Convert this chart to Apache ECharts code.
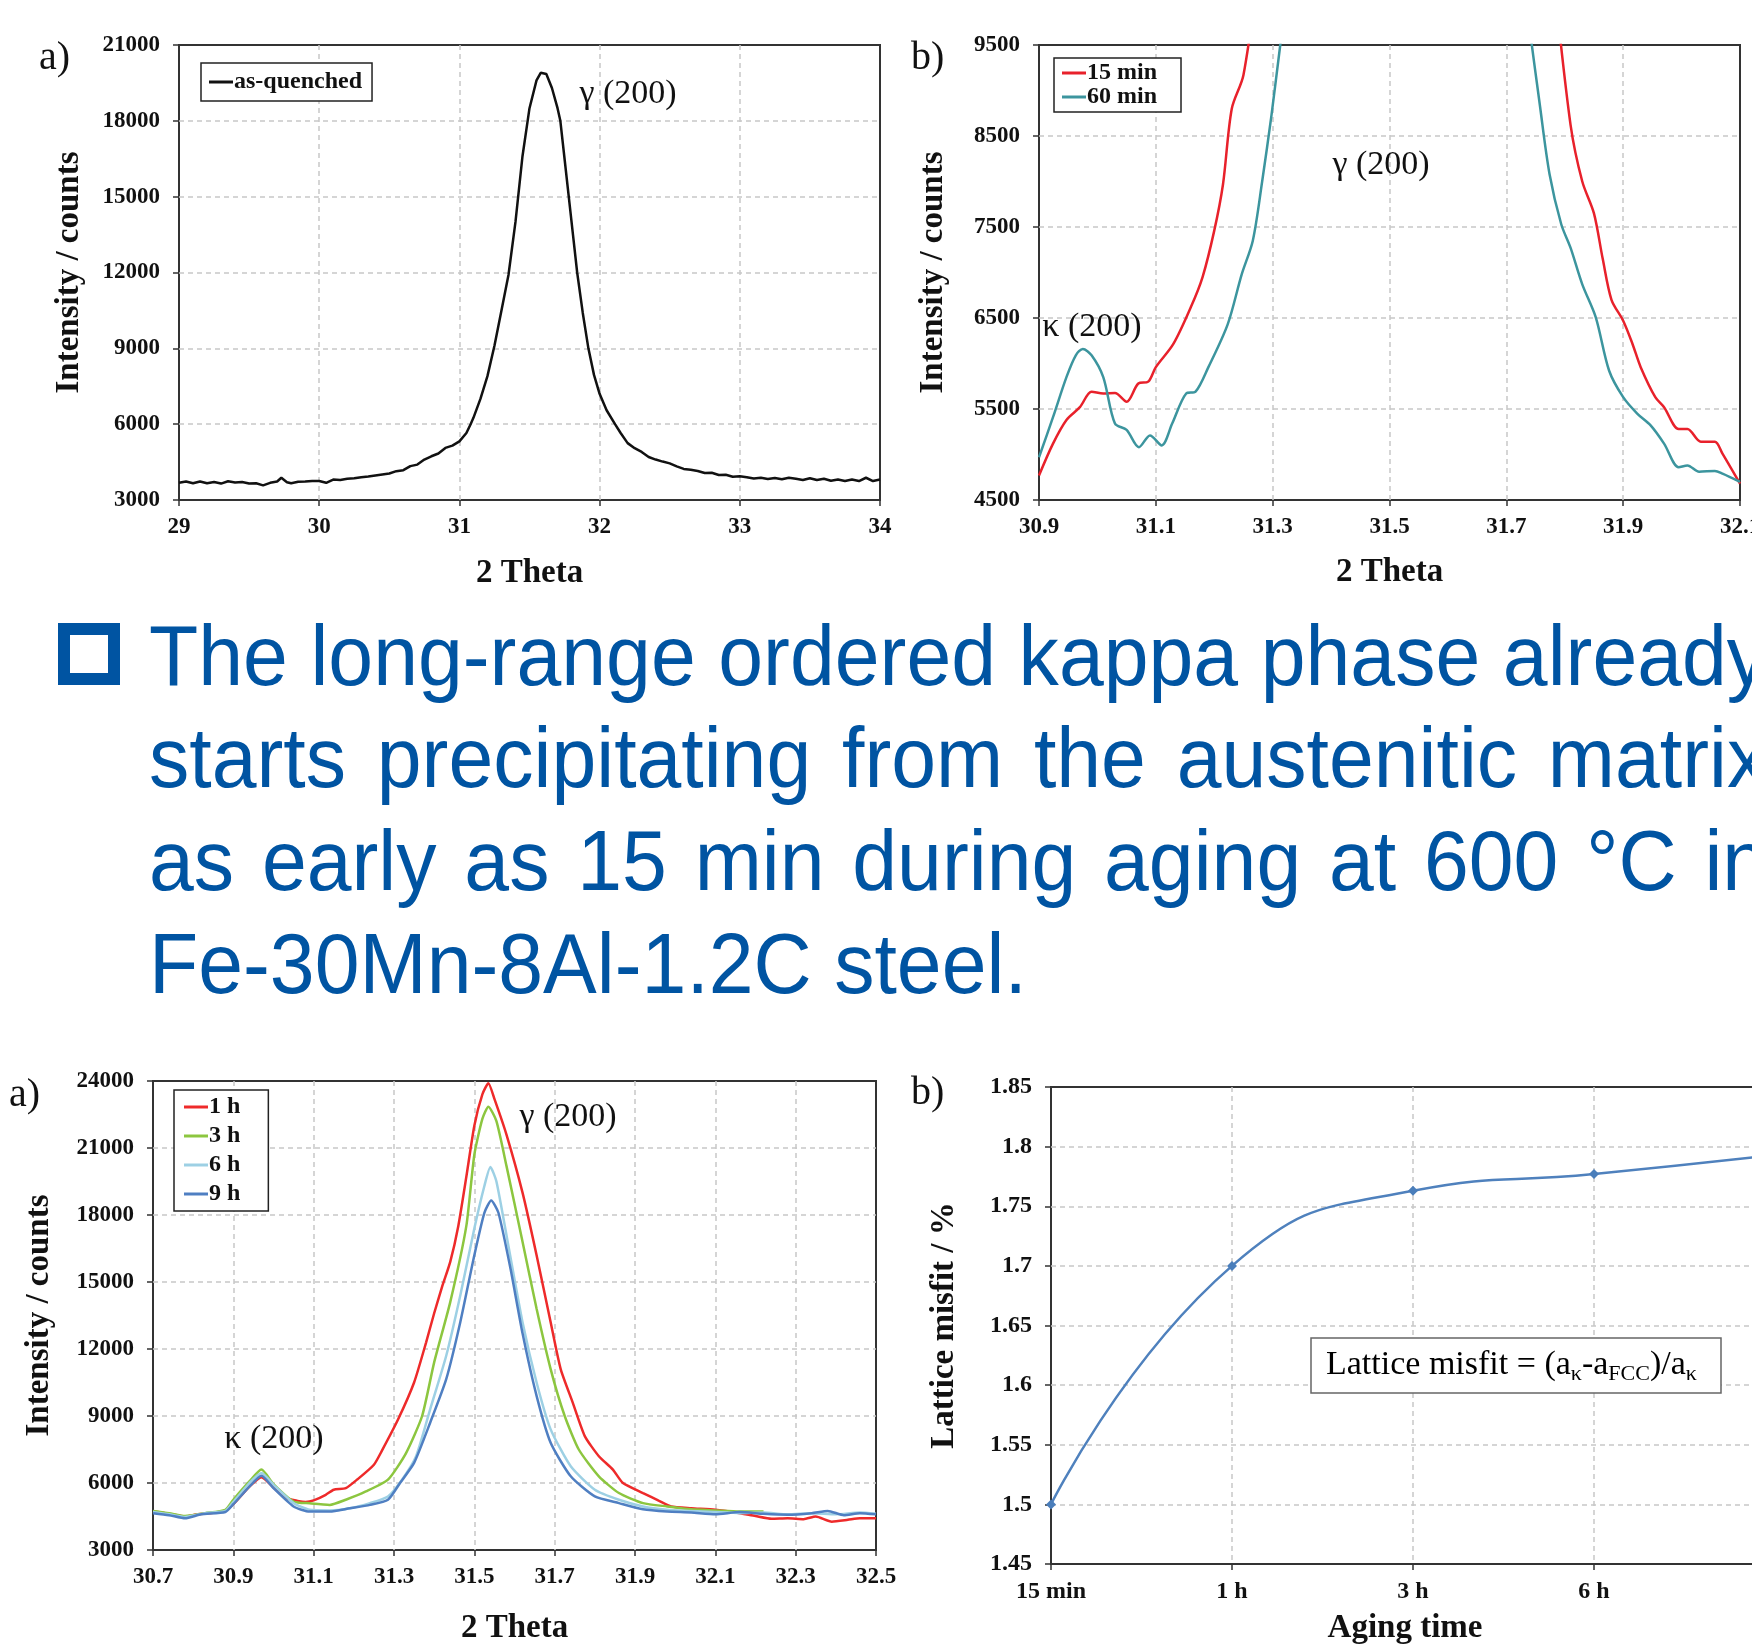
<!DOCTYPE html>
<html>
<head>
<meta charset="utf-8">
<script src="https://cdn.jsdelivr.net/npm/echarts@6.0.0/dist/echarts.min.js"></script>
<style>
  body { margin: 0; overflow: hidden; background: #fff; }
  #chart { position: absolute; left: 0; top: 0; width: 1752px; height: 1645px; }
  #bullet { position: absolute; left: 58px; top: 623px; width: 62px; height: 62px; box-sizing: border-box; border: 12px solid #0054a2; }
  .line { position: absolute; left: 149px; font-family: "Liberation Sans", Arial, sans-serif; font-size: 86px; line-height: 86px;
          color: #0054a2; white-space: nowrap; transform-origin: 0 0; transform: scaleX(0.937); }
  .just { display: flex; justify-content: space-between; width: 1727px; }
</style>
</head>
<body>
<div id="chart"></div>
<div id="bullet"></div>
<div id="para"></div>
<script>
// ---- data ----
var asQuenched = [
  [29.00,3680],[29.05,3730],[29.10,3660],[29.15,3730],[29.20,3660],[29.25,3710],[29.30,3650],[29.35,3740],[29.40,3690],[29.45,3710],
  [29.50,3650],[29.55,3660],[29.60,3580],[29.65,3680],[29.70,3730],[29.73,3880],[29.77,3700],[29.80,3660],[29.85,3720],[29.90,3730],
  [29.95,3750],[30.00,3750],[30.05,3680],[30.10,3810],[30.15,3790],[30.20,3840],[30.25,3860],[30.30,3900],[30.35,3930],[30.40,3970],
  [30.45,4010],[30.50,4050],[30.55,4140],[30.60,4180],[30.65,4340],[30.70,4400],[30.75,4600],[30.80,4730],[30.85,4840],[30.90,5060],
  [30.95,5150],[31.00,5320],[31.05,5650],[31.08,6000],[31.10,6250],[31.15,7000],[31.20,7900],[31.25,9100],[31.30,10500],[31.35,11900],
  [31.40,14000],[31.45,16600],[31.50,18500],[31.55,19600],[31.58,19900],[31.62,19850],[31.66,19300],[31.70,18500],[31.72,18000],[31.75,16500],
  [31.78,15000],[31.81,13500],[31.84,12000],[31.88,10400],[31.92,9000],[31.96,7950],[32.00,7200],[32.05,6550],[32.11,6000],[32.15,5650],
  [32.20,5250],[32.25,5050],[32.30,4900],[32.35,4700],[32.40,4600],[32.45,4520],[32.50,4450],[32.55,4330],[32.60,4230],[32.65,4200],
  [32.70,4150],[32.75,4070],[32.80,4080],[32.85,3990],[32.90,4000],[32.95,3920],[33.00,3940],[33.05,3900],[33.10,3850],[33.15,3880],
  [33.20,3830],[33.25,3870],[33.30,3820],[33.35,3880],[33.40,3840],[33.45,3790],[33.50,3860],[33.55,3790],[33.60,3840],[33.65,3760],
  [33.70,3810],[33.75,3750],[33.80,3810],[33.85,3750],[33.90,3880],[33.95,3750],[34.00,3810]
];

var aged15min = [
  [30.9,4770],[30.924,5120],[30.947,5380],[30.97,5520],[30.99,5690],[31.01,5670],[31.03,5675],[31.05,5580],[31.07,5780],[31.087,5800],
  [31.1,5960],[31.13,6215],[31.16,6620],[31.18,6950],[31.2,7460],[31.215,7970],[31.23,8800],[31.25,9170],[31.28,10500],[31.4,16000],
  [31.55,20000],[31.7,15000],[31.78,10300],[31.81,8620],[31.83,8000],[31.85,7650],[31.865,7150],[31.88,6700],[31.9,6470],[31.916,6215],
  [31.93,5960],[31.955,5630],[31.97,5520],[31.995,5280],[32.01,5280],[32.033,5140],[32.057,5140],[32.07,5010],[32.1,4680]
];
var aged60min = [
  [30.9,4970],[30.924,5410],[30.947,5850],[30.963,6090],[30.975,6160],[30.99,6090],[31.01,5850],[31.03,5340],[31.05,5270],[31.071,5080],
  [31.09,5210],[31.11,5100],[31.128,5340],[31.152,5670],[31.168,5690],[31.19,5960],[31.223,6430],[31.247,6980],[31.266,7350],[31.282,8000],
  [31.298,8730],[31.313,9500],[31.33,10300],[31.45,16000],[31.55,18500],[31.65,15000],[31.73,10200],[31.758,8810],[31.774,8080],[31.794,7530],
  [31.81,7270],[31.83,6870],[31.853,6510],[31.876,5920],[31.9,5630],[31.924,5450],[31.947,5320],[31.97,5120],[31.995,4860],[32.01,4880],
  [32.03,4810],[32.057,4820],[32.07,4790],[32.1,4700]
];

var aged1h = [
  [30.70,4720],[30.73,4650],[30.76,4560],[30.78,4500],[30.81,4600],[30.84,4640],[30.88,4760],[30.90,5050],[30.94,5840],[30.97,6260],
  [31.00,5800],[31.03,5330],[31.06,5200],[31.08,5150],[31.10,5220],[31.13,5470],[31.15,5700],[31.18,5770],[31.21,6180],[31.25,6820],
  [31.27,7450],[31.31,8840],[31.35,10500],[31.38,12300],[31.40,13600],[31.42,14800],[31.44,15900],[31.46,17500],[31.48,19700],[31.50,22000],
  [31.52,23400],[31.535,23900],[31.55,23200],[31.58,21600],[31.62,19000],[31.655,16200],[31.69,13200],[31.715,11100],[31.745,9600],[31.775,8100],
  [31.81,7200],[31.845,6600],[31.87,6000],[31.92,5550],[31.96,5200],[31.99,4950],[32.04,4870],[32.10,4800],[32.15,4680],[32.20,4520],
  [32.24,4400],[32.28,4420],[32.32,4380],[32.35,4500],[32.39,4270],[32.43,4350],[32.46,4420],[32.50,4420]
];
var aged3h = [
  [30.70,4750],[30.74,4650],[30.78,4520],[30.83,4650],[30.88,4800],[30.90,5250],[30.94,6070],[30.97,6600],[31.00,5950],[31.05,5170],
  [31.09,5090],[31.14,5020],[31.18,5250],[31.23,5620],[31.285,6150],[31.33,7340],[31.37,9000],[31.40,11400],[31.44,14100],[31.48,17500],
  [31.50,20700],[31.52,22300],[31.535,22850],[31.555,22200],[31.58,20200],[31.62,16800],[31.655,13800],[31.69,11100],[31.725,9000],[31.76,7500],
  [31.81,6300],[31.86,5550],[31.92,5100],[31.98,4950],[32.04,4820],[32.10,4770],[32.16,4720],[32.22,4720]
];
var aged6h = [
  [30.70,4700],[30.74,4600],[30.78,4480],[30.83,4650],[30.88,4750],[30.90,5150],[30.94,6000],[30.97,6450],[31.00,5920],[31.05,5100],
  [31.09,4800],[31.14,4770],[31.19,4870],[31.24,5100],[31.285,5400],[31.32,6150],[31.355,7200],[31.39,9300],[31.43,11700],[31.465,14400],
  [31.50,17400],[31.525,19300],[31.54,20150],[31.555,19500],[31.585,16600],[31.62,13200],[31.655,10500],[31.69,8400],[31.74,6750],[31.80,5700],
  [31.86,5250],[31.92,4950],[31.98,4800],[32.04,4750],[32.10,4700],[32.16,4650],[32.22,4680],[32.28,4600],[32.34,4650],[32.40,4600],
  [32.46,4680],[32.50,4620]
];
var aged9h = [
  [30.70,4650],[30.74,4560],[30.78,4420],[30.82,4600],[30.88,4700],[30.90,5050],[30.94,5840],[30.97,6320],[31.00,5770],[31.05,4950],
  [31.09,4720],[31.14,4720],[31.19,4870],[31.24,5020],[31.285,5250],[31.315,6000],[31.35,6900],[31.39,8700],[31.43,10650],[31.465,13200],
  [31.50,16200],[31.525,18100],[31.542,18650],[31.56,18100],[31.59,15600],[31.62,12700],[31.655,9900],[31.69,7800],[31.74,6300],[31.80,5400],
  [31.86,5100],[31.92,4820],[31.98,4720],[32.04,4680],[32.10,4600],[32.16,4700],[32.22,4620],[32.28,4580],[32.34,4650],[32.38,4750],
  [32.42,4560],[32.46,4650],[32.50,4600]
];

var agingTimes = ['15 min', '1 h', '3 h', '6 h', '9 h'];
var latticeMisfit = [1.5, 1.70, 1.763, 1.777, 1.793];

var paraLines = [
  'The long-range ordered kappa phase already',
  'starts precipitating from the austenitic matrix',
  'as early as 15 min during aging at 600 °C in',
  'Fe-30Mn-8Al-1.2C steel.'
];

// ---- paragraph ----
var para = document.getElementById('para');
var tops = [612, 714, 817, 920];
paraLines.forEach(function (txt, i) {
  var d = document.createElement('div');
  d.className = 'line';
  d.style.top = tops[i] + 'px';
  if (i < 3) {
    d.className += ' just';
    txt.split(' ').forEach(function (w) {
      var s = document.createElement('span');
      s.textContent = w;
      d.appendChild(s);
    });
  } else {
    d.textContent = txt;
  }
  para.appendChild(d);
});

// ---- chart ----
var serif = '"Liberation Serif", "Times New Roman", serif';
var ink = '#111';
var grids = [
  { left: 179, top: 45, width: 701, height: 455 },
  { left: 1039, top: 45, width: 701, height: 455 },
  { left: 153, top: 1081, width: 723, height: 469 },
  { left: 1051, top: 1087, width: 724, height: 477 }
];
grids.forEach(function (g) {
  g.show = true; g.borderColor = '#333'; g.borderWidth = 2;
  g.outerBoundsMode = 'none'; g.containLabel = false;
});

function gridLine() {
  return { show: true, showMinLine: false, showMaxLine: false,
    lineStyle: { color: '#c8c8c8', width: 1.5, type: [5, 4] } };
}
function tickLabel(size, fmt) {
  return { fontFamily: serif, fontWeight: 'bold', fontSize: size, color: ink, margin: 16, formatter: fmt };
}
var nameStyle = { fontFamily: serif, fontWeight: 'bold', fontSize: 33, color: ink };
var tick = { show: true, inside: false, length: 6, lineStyle: { color: '#333', width: 1.5 } };

function xVal(gi, min, max, interval, gap, fmt) {
  return { gridIndex: gi, type: 'value', min: min, max: max, interval: interval,
    name: '2 Theta', nameLocation: 'middle', nameGap: gap, nameTextStyle: nameStyle,
    axisLine: { show: false }, axisTick: tick, splitLine: gridLine(), axisLabel: tickLabel(23, fmt) };
}
function yVal(gi, min, max, interval, name, gap, size, fmt) {
  var lab = tickLabel(size, fmt);
  lab.margin = 19;
  return { gridIndex: gi, type: 'value', min: min, max: max, interval: interval,
    name: name, nameLocation: 'middle', nameGap: gap, nameTextStyle: nameStyle,
    axisLine: { show: false }, axisTick: tick, splitLine: gridLine(), axisLabel: lab };
}
var intFmt = function (v) { return String(Math.round(v)); };
var oneDec = function (v) { return v.toFixed(1); };
var misFmt = function (v) { return String(Math.round(v * 100) / 100); };

var agingName = { fontFamily: serif, fontWeight: 'bold', fontSize: 33, color: ink, padding: [0, 16, 0, 0] };
var xAxes = [
  xVal(0, 29, 34, 1, 57, intFmt),
  xVal(1, 30.9, 32.1, 0.2, 56, oneDec),
  xVal(2, 30.7, 32.5, 0.2, 62, oneDec),
  { gridIndex: 3, type: 'category', data: agingTimes, boundaryGap: false,
    name: 'Aging time', nameLocation: 'middle', nameGap: 48, nameTextStyle: agingName,
    axisLine: { show: false }, axisTick: tick, splitLine: gridLine(), axisLabel: tickLabel(24) }
];
var yAxes = [
  yVal(0, 3000, 21000, 3000, 'Intensity / counts', 93, 23, intFmt),
  yVal(1, 4500, 9500, 1000, 'Intensity / counts', 89, 23, intFmt),
  yVal(2, 3000, 24000, 3000, 'Intensity / counts', 97, 23, intFmt),
  yVal(3, 1.45, 1.85, 0.05, 'Lattice misfit / %', 90, 24, misFmt)
];

function xrd(name, gi, data, color, smooth) {
  return { name: name, type: 'line', xAxisIndex: gi, yAxisIndex: gi, data: data,
    showSymbol: false, smooth: smooth, clip: true, color: color,
    lineStyle: { color: color, width: 2.5 }, itemStyle: { color: color } };
}

var series = [
  xrd('as-quenched', 0, asQuenched, '#111', false),
  xrd('15 min', 1, aged15min, '#e8212b', 0.3),
  xrd('60 min', 1, aged60min, '#3c959e', 0.3),
  xrd('1 h', 2, aged1h, '#ee2a2a', 0.2),
  xrd('3 h', 2, aged3h, '#8cc63f', 0.2),
  xrd('6 h', 2, aged6h, '#9dd0e4', 0.2),
  xrd('9 h', 2, aged9h, '#4f7fc2', 0.2),
  { name: 'misfit', type: 'line', xAxisIndex: 3, yAxisIndex: 3, data: latticeMisfit,
    smooth: 0.5, symbol: 'diamond', symbolSize: 10, color: '#4a7ebb',
    lineStyle: { color: '#4f81bd', width: 2.5 }, itemStyle: { color: '#4a7ebb' } }
];

function box(names, left, top, pad, gap, orient) {
  return { data: names, left: left, top: top, orient: orient, padding: pad, itemGap: gap,
    icon: 'rect', itemWidth: 24, itemHeight: 3, selectedMode: false,
    borderColor: '#222', borderWidth: 1.5, backgroundColor: '#fff',
    textStyle: { fontFamily: serif, fontWeight: 'bold', fontSize: 24, color: ink, padding: [0, 0, 0, -4] } };
}
var legends = [
  box(['as-quenched'], 201, 63, [7, 10, 7, 8], 0, 'horizontal'),
  box(['15 min', '60 min'], 1054, 58, [3, 24, 3, 8], 0, 'vertical'),
  box(['1 h', '3 h', '6 h', '9 h'], 174, 1090, [5, 28, 5, 10], 5, 'vertical')
];

function label(txt, x, y, size, align) {
  return { type: 'text', x: x, y: y, z: 50, style: { text: txt, fill: ink,
    font: 'normal ' + size + 'px ' + serif, align: align || 'center', verticalAlign: 'middle',
    textAlign: align || 'center', textVerticalAlign: 'middle' } };
}

var graphics = [
  label('a)', 39, 58, 40, 'left'),
  label('b)', 911, 58, 40, 'left'),
  label('a)', 9, 1095, 40, 'left'),
  label('b)', 911, 1093, 40, 'left'),
  label('γ (200)', 628, 94, 34),
  label('γ (200)', 1381, 165, 34),
  label('κ (200)', 1092, 327, 34),
  label('γ (200)', 568, 1117, 34),
  label('κ (200)', 274, 1439, 34),
  { type: 'rect', z: 50, shape: { x: 1311, y: 1338, width: 410, height: 55 },
    style: { fill: '#fff', stroke: '#666', lineWidth: 1.5 } },
  { type: 'text', x: 1326, y: 1365, z: 51, style: {
    text: '{n|Lattice misfit = (a}{s|κ}{n|-a}{s|FCC}{n|)/a}{s|κ}',
    align: 'left', verticalAlign: 'middle', textAlign: 'left', textVerticalAlign: 'middle',
    rich: {
      n: { fontFamily: serif, fontSize: 34, color: ink, lineHeight: 40, verticalAlign: 'middle' },
      s: { fontFamily: serif, fontSize: 22, color: ink, lineHeight: 22, verticalAlign: 'bottom' }
    } } }
];

var myChart = echarts.init(document.getElementById('chart'), null, { renderer: 'canvas' });
var option = {
  animation: false,
  backgroundColor: '#fff',
  grid: grids,
  xAxis: xAxes,
  yAxis: yAxes,
  legend: legends,
  series: series,
  graphic: graphics
};
option && myChart.setOption(option);
</script>
</body>
</html>
